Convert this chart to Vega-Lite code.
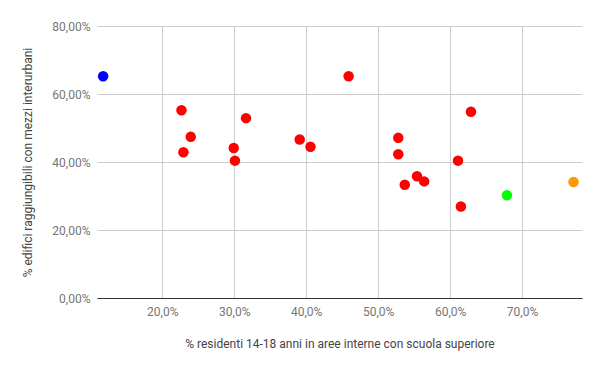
{
  "$schema": "https://vega.github.io/schema/vega-lite/v6.json",
  "width": 485,
  "height": 272,
  "autosize": "none",
  "padding": {"left": 97, "top": 26, "right": 18, "bottom": 73},
  "background": "white",
  "data": {
    "values": [
      {"x": 0.1178, "y": 0.652, "g": "A"},
      {"x": 0.2267, "y": 0.552, "g": "B"},
      {"x": 0.2396, "y": 0.474, "g": "B"},
      {"x": 0.2294, "y": 0.4285, "g": "B"},
      {"x": 0.3164, "y": 0.529, "g": "B"},
      {"x": 0.2993, "y": 0.441, "g": "B"},
      {"x": 0.301, "y": 0.404, "g": "B"},
      {"x": 0.391, "y": 0.466, "g": "B"},
      {"x": 0.406, "y": 0.445, "g": "B"},
      {"x": 0.459, "y": 0.652, "g": "B"},
      {"x": 0.528, "y": 0.471, "g": "B"},
      {"x": 0.528, "y": 0.423, "g": "B"},
      {"x": 0.537, "y": 0.333, "g": "B"},
      {"x": 0.554, "y": 0.358, "g": "B"},
      {"x": 0.564, "y": 0.343, "g": "B"},
      {"x": 0.611, "y": 0.404, "g": "B"},
      {"x": 0.629, "y": 0.548, "g": "B"},
      {"x": 0.615, "y": 0.269, "g": "B"},
      {"x": 0.679, "y": 0.302, "g": "C"},
      {"x": 0.7715, "y": 0.341, "g": "D"}
    ]
  },
  "mark": {"type": "point", "filled": true, "opacity": 1, "size": 110, "shape": "circle"},
  "encoding": {
    "x": {
      "field": "x",
      "type": "quantitative",
      "scale": {"domain": [0.1093, 0.7833], "nice": false, "zero": false},
      "axis": {
        "title": "% residenti 14-18 anni in aree interne con scuola superiore",
        "values": [0.2, 0.3, 0.4, 0.5, 0.6, 0.7],
        "labelExpr": "replace(format(datum.value, '.1%'), '.', ',')",
        "titlePadding": 21,
        "labelPadding": 8
      }
    },
    "y": {
      "field": "y",
      "type": "quantitative",
      "scale": {"domain": [0, 0.8], "nice": false},
      "axis": {
        "title": "% edifici raggiungibili con mezzi interurbani",
        "values": [0, 0.2, 0.4, 0.6, 0.8],
        "labelExpr": "replace(format(datum.value, '.2%'), '.', ',')",
        "domain": false,
        "titlePadding": 17,
        "labelPadding": 7
      }
    },
    "color": {
      "field": "g",
      "type": "nominal",
      "scale": {"domain": ["A", "B", "C", "D"], "range": ["#0000ff", "#ff0000", "#00ff00", "#ff9900"]},
      "legend": null
    }
  },
  "config": {
    "view": {"stroke": null},
    "font": "Roboto",
    "axis": {
      "gridColor": "#cccccc",
      "gridWidth": 1,
      "ticks": false,
      "labelColor": "#757575",
      "labelFontSize": 12,
      "labelFont": "Roboto",
      "titleColor": "#444444",
      "titleFontSize": 12,
      "titleFont": "Roboto",
      "titleFontWeight": "normal",
      "domainColor": "#333333",
      "domainWidth": 1
    }
  }
}
